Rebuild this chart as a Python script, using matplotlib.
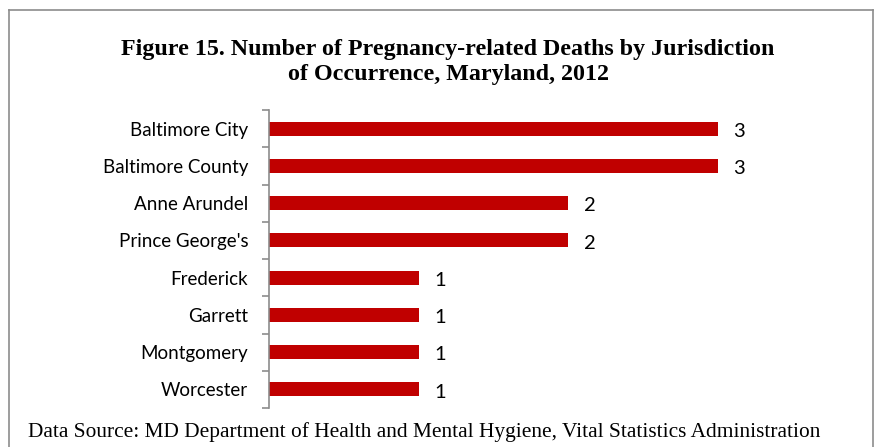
import matplotlib.pyplot as plt
from matplotlib.lines import Line2D

# Datos
jurisdicciones = ["Baltimore City", "Baltimore County", "Anne Arundel", "Prince George's",
                  "Frederick", "Garrett", "Montgomery", "Worcester"]
muertes = [3, 3, 2, 2, 1, 1, 1, 1]

W, H = 876, 447
fig = plt.figure(figsize=(W / 100, H / 100), dpi=100)

# Marco gris alrededor de la figura (abierto por abajo)
gris = "#8c8c8c"
def px(x, y):
    return x / W, 1 - y / H
for (x0, y0), (x1, y1) in [((9, 447), (9, 10)), ((9, 10), (873, 10)), ((873, 10), (873, 447))]:
    a, b = px(x0, y0)
    c, d = px(x1, y1)
    fig.add_artist(Line2D([a, c], [b, d], color=gris, lw=1.2))

# Ejes: y desde 110 hasta 408 px, x desde 269 px hasta 718 px (= valor 3)
ax = fig.add_axes([269 / W, 1 - 408 / H, (718 - 269) / W, (408 - 110) / H])
pos = list(range(len(jurisdicciones)))
ax.barh(pos, muertes, height=0.38, color="#C00000")
ax.set_ylim(len(jurisdicciones) - 0.5, -0.5)
ax.set_xlim(0, 3)

ax.set_yticks(pos)
ax.set_yticklabels(jurisdicciones, fontsize=13.5, family="Lato")
ax.tick_params(axis="y", which="major", length=0, pad=15)
ax.set_yticks([p - 0.5 for p in pos] + [len(pos) - 0.5], minor=True)
ax.tick_params(axis="y", which="minor", length=5, color=gris, width=1.2)
ax.set_xticks([])
for s in ["top", "right", "bottom"]:
    ax.spines[s].set_visible(False)
ax.spines["left"].set_color(gris)
ax.spines["left"].set_linewidth(1.2)

for p, v in zip(pos, muertes):
    ax.annotate(str(v), (v, p), xytext=(11, -2), textcoords="offset points",
                va="center", ha="left", fontsize=14.5, family="Lato", annotation_clip=False)

fig.text(448 / W, 1 - 62 / H, "Figure 15. Number of Pregnancy-related Deaths by Jurisdiction\nof Occurrence, Maryland, 2012",
         ha="center", va="center", fontsize=17.3, fontweight="bold", family="Liberation Serif",
         linespacing=1.2)
fig.text(28 / W, 1 - 432 / H, "Data Source: MD Department of Health and Mental Hygiene, Vital Statistics Administration",
         ha="left", va="center", fontsize=15.4, family="Liberation Serif")

fig.savefig("out.png", dpi=100)
